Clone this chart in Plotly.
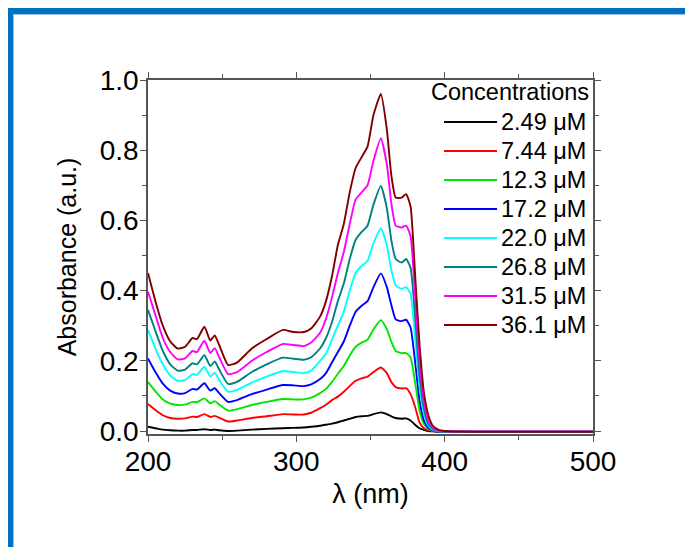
import plotly.graph_objects as go

# ---- data -------------------------------------------------------------
wavelength_nm = [200, 205, 210, 215, 220, 225, 230, 233, 238, 242, 245, 248, 254, 260, 270, 280, 291, 298, 305, 310,
                 316, 320, 324, 328, 332, 336, 340, 344, 348, 352, 357, 361, 364, 367, 371, 374, 377, 380, 383, 386,
                 389, 392, 396, 400, 420, 450, 480, 500]

conc_labels = ["2.49 \u03bcM", "7.44 \u03bcM", "12.3 \u03bcM", "17.2 \u03bcM",
               "22.0 \u03bcM", "26.8 \u03bcM", "31.5 \u03bcM", "36.1 \u03bcM"]

abs_2_49 = [0.012, 0.008, 0.004, 0.002, 0.001, 0.001, 0.003, 0.003, 0.005, 0.003, 0.004, 0.002, 0.000, 0.001, 0.004, 0.006, 0.008, 0.009, 0.010, 0.012,
            0.015, 0.018, 0.021, 0.025, 0.030, 0.035, 0.040, 0.042, 0.043, 0.048, 0.053, 0.048, 0.042, 0.037, 0.035, 0.036, 0.030, 0.018, 0.008, 0.003,
            0.000, -0.001, -0.002, -0.002, -0.002, -0.002, -0.002, -0.002]
abs_7_44 = [0.077, 0.060, 0.045, 0.037, 0.035, 0.036, 0.041, 0.040, 0.048, 0.040, 0.043, 0.038, 0.027, 0.030, 0.037, 0.042, 0.048, 0.047, 0.047, 0.052,
            0.065, 0.075, 0.088, 0.098, 0.112, 0.128, 0.143, 0.150, 0.155, 0.168, 0.181, 0.165, 0.140, 0.125, 0.121, 0.122, 0.105, 0.070, 0.025, 0.008,
            0.002, 0.000, -0.002, -0.003, -0.003, -0.003, -0.003, -0.003]
abs_12_3 = [0.140, 0.113, 0.090, 0.078, 0.074, 0.075, 0.083, 0.082, 0.093, 0.079, 0.085, 0.075, 0.058, 0.062, 0.074, 0.083, 0.091, 0.090, 0.090, 0.095,
            0.108, 0.120, 0.140, 0.163, 0.185, 0.215, 0.240, 0.252, 0.260, 0.290, 0.316, 0.290, 0.255, 0.228, 0.222, 0.222, 0.210, 0.140, 0.060, 0.020,
            0.006, 0.001, -0.002, -0.003, -0.003, -0.003, -0.003, -0.003]
abs_17_2 = [0.207, 0.168, 0.135, 0.115, 0.107, 0.108, 0.120, 0.118, 0.136, 0.115, 0.122, 0.108, 0.083, 0.088, 0.105, 0.118, 0.131, 0.130, 0.128, 0.133,
            0.148, 0.165, 0.195, 0.225, 0.255, 0.300, 0.340, 0.357, 0.370, 0.410, 0.449, 0.410, 0.360, 0.318, 0.313, 0.317, 0.295, 0.200, 0.090, 0.030,
            0.009, 0.002, -0.002, -0.003, -0.003, -0.003, -0.003, -0.003]
abs_22_0 = [0.288, 0.235, 0.190, 0.158, 0.143, 0.145, 0.162, 0.160, 0.183, 0.155, 0.166, 0.145, 0.112, 0.117, 0.138, 0.155, 0.171, 0.168, 0.165, 0.172,
            0.200, 0.220, 0.260, 0.300, 0.340, 0.400, 0.450, 0.470, 0.485, 0.535, 0.577, 0.530, 0.460, 0.415, 0.405, 0.410, 0.390, 0.270, 0.130, 0.050,
            0.015, 0.004, -0.001, -0.002, -0.002, -0.002, -0.002, -0.002]
abs_26_8 = [0.345, 0.285, 0.228, 0.190, 0.172, 0.175, 0.193, 0.190, 0.216, 0.185, 0.198, 0.175, 0.134, 0.140, 0.168, 0.190, 0.209, 0.206, 0.203, 0.210,
            0.235, 0.265, 0.310, 0.370, 0.420, 0.490, 0.545, 0.567, 0.585, 0.645, 0.698, 0.635, 0.545, 0.490, 0.480, 0.490, 0.465, 0.330, 0.160, 0.065,
            0.020, 0.006, 0.000, -0.002, -0.002, -0.002, -0.002, -0.002]
abs_31_5 = [0.397, 0.330, 0.265, 0.225, 0.204, 0.207, 0.228, 0.225, 0.257, 0.222, 0.236, 0.210, 0.162, 0.168, 0.200, 0.225, 0.248, 0.245, 0.242, 0.252,
            0.280, 0.320, 0.380, 0.450, 0.510, 0.590, 0.660, 0.680, 0.700, 0.770, 0.834, 0.760, 0.650, 0.585, 0.580, 0.585, 0.555, 0.390, 0.200, 0.085,
            0.030, 0.009, 0.001, -0.001, -0.001, -0.001, -0.001, -0.001]
abs_36_1 = [0.450, 0.370, 0.300, 0.255, 0.235, 0.240, 0.265, 0.262, 0.297, 0.258, 0.272, 0.245, 0.188, 0.195, 0.235, 0.262, 0.288, 0.282, 0.282, 0.292,
            0.326, 0.370, 0.440, 0.530, 0.590, 0.680, 0.750, 0.780, 0.810, 0.900, 0.960, 0.860, 0.730, 0.665, 0.665, 0.675, 0.640, 0.450, 0.250, 0.110,
            0.045, 0.015, 0.003, 0.000, -0.002, -0.002, -0.002, -0.002]

series_values = [abs_2_49, abs_7_44, abs_12_3, abs_17_2, abs_22_0, abs_26_8, abs_31_5, abs_36_1]
series_colors = ["#000000", "#FF0000", "#00E600", "#0000FF", "#00FFFF", "#008080", "#FF00FF", "#800000"]

x_ticks = [200, 300, 400, 500]
y_ticks = [0.0, 0.2, 0.4, 0.6, 0.8, 1.0]

# ---- layout geometry (pixels, page coordinates; page has an 8px body margin) ----
OFF = 8
W, H = 693 - OFF, 547 - OFF
L, R, T, B = 148 - OFF, 593 - OFF, 80 - OFF, 434 - OFF


def px(xpage):
    return (xpage - OFF - L) / (R - L)


def py(ypage):
    return (B - (ypage - OFF)) / (B - T)


FONT = "Liberation Sans, Arial, sans-serif"

fig = go.Figure()
for vals, col, lab in zip(series_values, series_colors, conc_labels):
    fig.add_trace(go.Scatter(x=wavelength_nm, y=vals, mode="lines", name=lab,
                             line=dict(color=col, width=1.9, shape="spline", smoothing=0.5),
                             showlegend=False))

axis_common = dict(showline=True, linecolor="#555555", linewidth=1.6, mirror="ticks",
                   ticks="outside", ticklen=6, tickwidth=1.2, tickcolor="#555555",
                   showgrid=False, zeroline=False, ticklabelstandoff=-4,
                   tickfont=dict(family=FONT, size=28, color="#000000"))

fig.update_xaxes(range=[200, 500], tickvals=x_ticks, ticktext=[str(v) for v in x_ticks],
                 minor=dict(ticks="outside", ticklen=4, tickcolor="#555555", dtick=50, tick0=200),
                 title=dict(text="\u03bb (nm)", font=dict(family=FONT, size=27, color="#000000"), standoff=8),
                 **axis_common)
fig.update_yaxes(range=[-0.0085, 1.0], tickvals=y_ticks, ticktext=[f"{v:.1f}" for v in y_ticks],
                 minor=dict(ticks="outside", ticklen=4, tickcolor="#555555", dtick=0.1, tick0=0),
                 title=dict(text="Absorbance (a.u.)", font=dict(family=FONT, size=25, color="#000000"), standoff=16),
                 **axis_common)

shapes = []
annotations = []

# blue frame (top and left edges visible)
shapes.append(dict(type="rect", xref="paper", yref="paper",
                   x0=px(10), x1=px(760), y0=py(11), y1=py(620),
                   line=dict(color="#0070C0", width=6), fillcolor="rgba(0,0,0,0)", layer="above"))
shapes.append(dict(type="rect", xref="paper", yref="paper",
                   x0=px(13.5), x1=px(760), y0=py(14.5), y1=py(620),
                   line=dict(color="#9DC3E6", width=1), fillcolor="rgba(0,0,0,0)", layer="above"))

# legend drawn by hand
annotations.append(dict(xref="paper", yref="paper", x=px(591), y=py(92), xanchor="right", yanchor="middle",
                        text="Concentrations", showarrow=False,
                        font=dict(family=FONT, size=23.5, color="#000000")))
row_y = [122, 151, 180, 209, 238, 267, 296, 325]
for yy, col, lab in zip(row_y, series_colors, conc_labels):
    shapes.append(dict(type="line", xref="paper", yref="paper", x0=px(444), x1=px(497), y0=py(yy), y1=py(yy),
                       line=dict(color=col, width=1.9)))
    annotations.append(dict(xref="paper", yref="paper", x=px(588), y=py(yy), xanchor="right", yanchor="middle",
                            text=lab, showarrow=False, font=dict(family=FONT, size=23.5, color="#000000")))

fig.update_layout(width=W, height=H, margin=dict(l=L, r=W - R, t=T, b=H - B, pad=0),
                  paper_bgcolor="#FFFFFF", plot_bgcolor="#FFFFFF",
                  shapes=shapes, annotations=annotations, showlegend=False)

fig.write_html("out.html")
